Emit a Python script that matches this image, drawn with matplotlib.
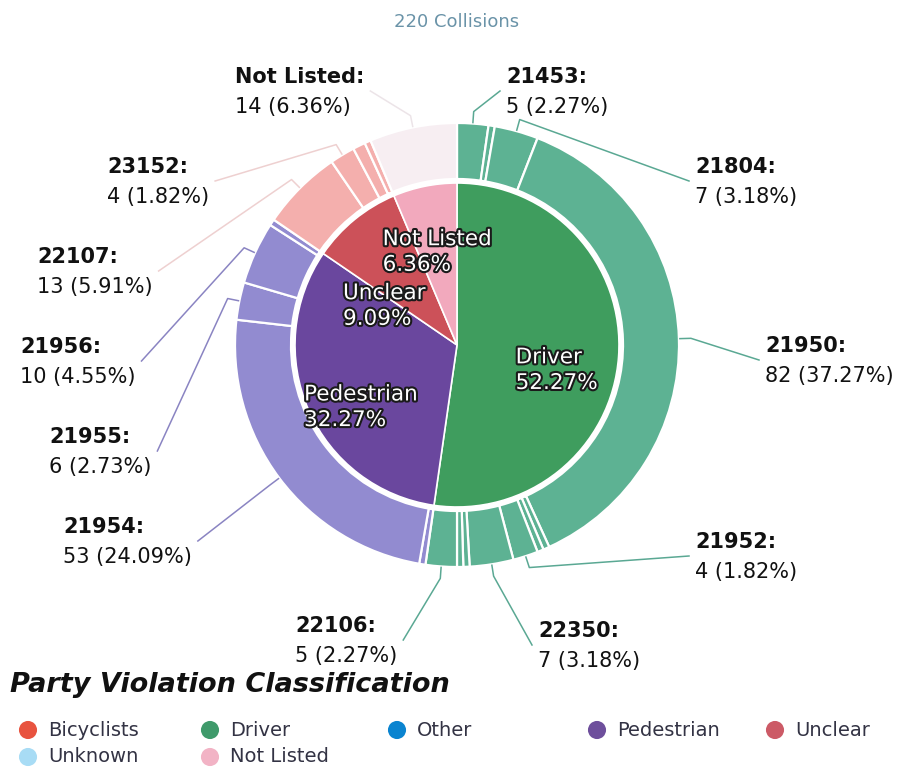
import matplotlib
matplotlib.use("Agg")
import matplotlib.pyplot as plt
import matplotlib.patheffects as pe
import numpy as np


TITLE = "220 Collisions"
LEGEND_TITLE = "Party Violation Classification"

# inner ring: party classification
GROUPS = ["Driver", "Pedestrian", "Unclear", "Not Listed"]
GROUP_COUNTS = [115, 71, 20, 14]

# outer ring: violation codes, clockwise from 12 o'clock ("" = unlabeled sliver)
OUTER_CODES = [
    "21453", "", "21804", "21950", "", "", "21952", "22350", "", "", "22106",
    "", "21954", "21955", "21956", "",
    "22107", "23152", "", "",
    "Not Listed",
]
OUTER_COUNTS = [
    5, 1, 7, 82, 1, 1, 4, 7, 1, 1, 5,
    1, 53, 6, 10, 1,
    13, 4, 2, 1,
    14,
]
OUTER_GROUPS = (["Driver"] * 11 + ["Pedestrian"] * 5 + ["Unclear"] * 4
                + ["Not Listed"])

LEGEND_NAMES = ["Bicyclists", "Driver", "Other", "Pedestrian", "Unclear",
                "Unknown", "Not Listed"]

INNER_COLORS = {
    "Driver": "#3f9d5e",
    "Pedestrian": "#6a479e",
    "Unclear": "#cc5159",
    "Not Listed": "#f2a9bd",
}
OUTER_COLORS = {
    "Driver": "#5db293",
    "Pedestrian": "#928bd0",
    "Unclear": "#f4afad",
    "Not Listed": "#f7eef2",
}
LINE_COLORS = {
    "Driver": "#5aa893",
    "Pedestrian": "#8a84c2",
    "Unclear": "#eed0d0",
    "Not Listed": "#ece4e8",
}
LEGEND_COLORS = {
    "Bicyclists": "#e8533f",
    "Driver": "#3f9a6b",
    "Other": "#0a84d0",
    "Pedestrian": "#6e4f9c",
    "Unclear": "#cc5a66",
    "Unknown": "#a8dcf5",
    "Not Listed": "#f2b3c5",
}

# inner label placement: radius from centre and downward nudge, in pixels
INNER_LABEL_R = {"Driver": 100, "Pedestrian": 105, "Unclear": 115, "Not Listed": 100}
INNER_LABEL_DROP = {"Driver": 18, "Pedestrian": 20, "Unclear": 50, "Not Listed": 5}

# outer label placement (left x, first-line baseline) in pixels from top-left
LABEL_POS = {
    "Not Listed": (235, 83),
    "21453": (506, 83),
    "21804": (695, 173),
    "23152": (107, 173),
    "22107": (37, 263),
    "21950": (765, 352),
    "21956": (20, 353),
    "21955": (49, 443),
    "21954": (63, 533),
    "21952": (695, 548),
    "22106": (295, 632),
    "22350": (538, 637),
}

W, H = 913, 771
CX, CY = 457, 345
R_OUT, R_RING_IN, R_IN = 222, 166, 162


def Y(py):
    return H - py


total = sum(GROUP_COUNTS)

fig = plt.figure(figsize=(W / 100, H / 100), dpi=100)
ax = fig.add_axes([0, 0, 1, 1])

ax.pie(OUTER_COUNTS, colors=[OUTER_COLORS[g] for g in OUTER_GROUPS],
       startangle=90, counterclock=False, center=(CX, Y(CY)), radius=R_OUT,
       wedgeprops=dict(width=R_OUT - R_RING_IN, edgecolor="white", linewidth=1.6))
ax.pie(GROUP_COUNTS, colors=[INNER_COLORS[g] for g in GROUPS],
       startangle=90, counterclock=False, center=(CX, Y(CY)), radius=R_IN,
       wedgeprops=dict(edgecolor="white", linewidth=1.2))

ax.set_xlim(0, W)
ax.set_ylim(0, H)
ax.set_aspect("equal")
ax.axis("off")

# inner labels
stroke = [pe.withStroke(linewidth=3, foreground="#1a1a1a")]
cum = np.cumsum([0] + GROUP_COUNTS)
for i, g in enumerate(GROUPS):
    mid = np.deg2rad((cum[i] + cum[i + 1]) / 2 / total * 360)
    r = INNER_LABEL_R[g]
    x = CX + r * np.sin(mid)
    y = Y(CY) + r * np.cos(mid) - INNER_LABEL_DROP[g]
    pct = GROUP_COUNTS[i] / total * 100
    ax.text(x, y, f"{g}\n{pct:.2f}%", ha="center", va="center",
            multialignment="left", color="white", fontsize=15.5,
            linespacing=1.35, path_effects=stroke, zorder=5)

# outer labels with leader lines
fig.canvas.draw()
renderer = fig.canvas.get_renderer()
cum = np.cumsum([0] + OUTER_COUNTS)
for i, code in enumerate(OUTER_CODES):
    if not code:
        continue
    lx, lb = LABEL_POS[code]
    n = OUTER_COUNTS[i]
    t1 = ax.text(lx, Y(lb), f"{code}:", fontsize=15, fontweight="bold",
                 color="#111111", va="baseline", ha="left")
    t2 = ax.text(lx, Y(lb + 30), f"{n} ({n / total * 100:.2f}%)", fontsize=15,
                 color="#111111", va="baseline", ha="left")
    mid = np.deg2rad((cum[i] + cum[i + 1]) / 2 / total * 360)
    x0 = CX + (R_OUT + 1) * np.sin(mid)
    y0 = Y(CY) + (R_OUT + 1) * np.cos(mid)
    x1 = CX + (R_OUT + 12) * np.sin(mid)
    y1 = Y(CY) + (R_OUT + 12) * np.cos(mid)
    if lx > CX:
        x2 = lx - 6
    else:
        right = max(t1.get_window_extent(renderer).x1,
                    t2.get_window_extent(renderer).x1)
        x2 = right + 6
    y2 = Y(lb + 8)
    ax.plot([x0, x1, x2], [y0, y1, y2], color=LINE_COLORS[OUTER_GROUPS[i]],
            linewidth=1.1, zorder=1)

ax.text(CX, Y(27), TITLE, ha="center", va="baseline", fontsize=13,
        color="#6a93a8")

# legend
ax.text(10, Y(692), LEGEND_TITLE, fontsize=19.5, fontweight="bold",
        fontstyle="italic", color="#111111", va="baseline", ha="left")
LEGEND_X = [28, 210, 397, 597, 775]
LEGEND_ROW_Y = [730, 757]
for i, name in enumerate(LEGEND_NAMES):
    mx = LEGEND_X[i % 5]
    my = Y(LEGEND_ROW_Y[i // 5])
    ax.scatter([mx], [my], s=170, color=LEGEND_COLORS[name], edgecolor="none")
    ax.text(mx + 20, my, name, fontsize=14, color="#333344",
            va="center", ha="left")

fig.savefig("out.png", dpi=100)
